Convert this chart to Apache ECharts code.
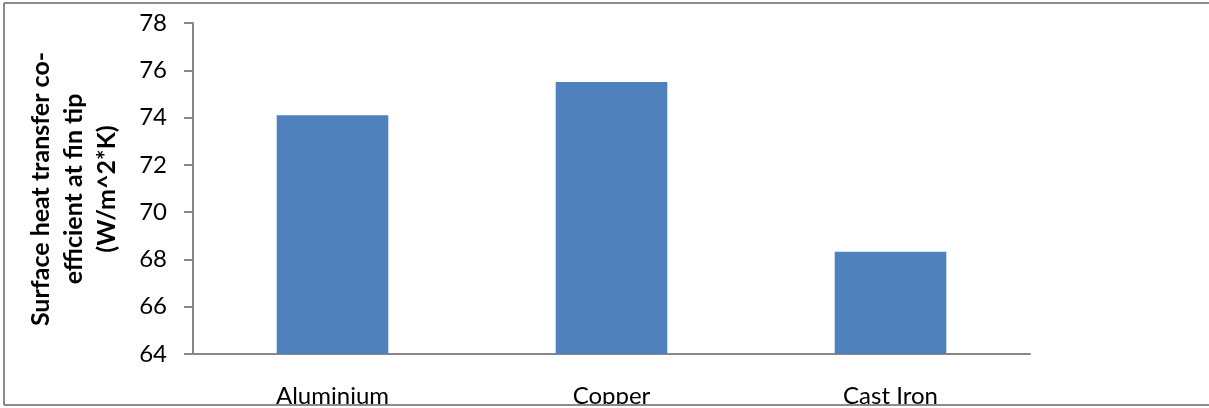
<!DOCTYPE html>
<html>
<head>
<meta charset="utf-8">
<script src="https://cdn.jsdelivr.net/npm/echarts@6/dist/echarts.min.js"></script>
<style>
  html, body { margin: 0; padding: 0; background: #fff; }
  #chart { width: 1209px; height: 408px; }
</style>
</head>
<body>
<div id="chart"></div>
<script>
// Fin materials and the heat transfer coefficient at the fin tip
const materials = ['Aluminium', 'Copper', 'Cast Iron'];
const tipCoefficient = [74.1, 75.5, 68.33];
const yAxisMin = 64;
const yAxisMax = 78;
const yAxisStep = 2;
const yAxisTitleLines = ['Surface heat transfer co-', 'efficient at fin tip', '(W/m^2*K)'];

const FONT = 'Lato, "Open Sans", sans-serif';
const chart = echarts.init(document.getElementById('chart'), null, { renderer: 'canvas' });

// rotated axis title, one centred line each
const titleX = [41, 74, 107];
const titleGraphics = yAxisTitleLines.map((line, i) => ({
  type: 'text',
  x: titleX[i],
  y: 189,
  rotation: Math.PI / 2,
  style: {
    text: line,
    fontFamily: FONT,
    fontWeight: 'bold',
    fontSize: 25,
    align: 'center',
    verticalAlign: 'middle',
    fill: '#000'
  }
}));

chart.setOption({
  animation: false,
  backgroundColor: '#ffffff',
  grid: { left: 193, right: 179, top: 23, bottom: 51.5, containLabel: false },
  xAxis: {
    type: 'category',
    data: materials,
    axisLine: { lineStyle: { color: '#868686', width: 2 } },
    axisTick: { show: false },
    axisLabel: { margin: 30, fontFamily: FONT, fontSize: 24, color: '#000' }
  },
  yAxis: {
    type: 'value',
    min: yAxisMin,
    max: yAxisMax,
    interval: yAxisStep,
    axisLine: { show: true, lineStyle: { color: '#868686', width: 2 } },
    axisTick: { show: true, inside: false, length: 9, lineStyle: { color: '#868686', width: 2 } },
    splitLine: { show: false },
    axisLabel: { margin: 26, fontFamily: FONT, fontSize: 24, color: '#000' }
  },
  series: [{
    type: 'bar',
    data: tipCoefficient,
    barWidth: '40%',
    itemStyle: { color: '#4F81BD' }
  }],
  graphic: titleGraphics.concat([
    // strip under the frame edge
    { type: 'rect', shape: { x: 0, y: 404, width: 1209, height: 4 }, style: { fill: '#ffffff' }, z: 100 },
    // chart frame (top, left, bottom)
    { type: 'line', shape: { x1: 4, y1: 3, x2: 1209, y2: 3 }, style: { stroke: '#8c8c8c', lineWidth: 2 }, z: 101 },
    { type: 'line', shape: { x1: 4, y1: 3, x2: 4, y2: 405 }, style: { stroke: '#8c8c8c', lineWidth: 2 }, z: 101 },
    { type: 'line', shape: { x1: 4, y1: 405, x2: 1209, y2: 405 }, style: { stroke: '#8c8c8c', lineWidth: 2 }, z: 101 }
  ])
});
</script>
</body>
</html>
